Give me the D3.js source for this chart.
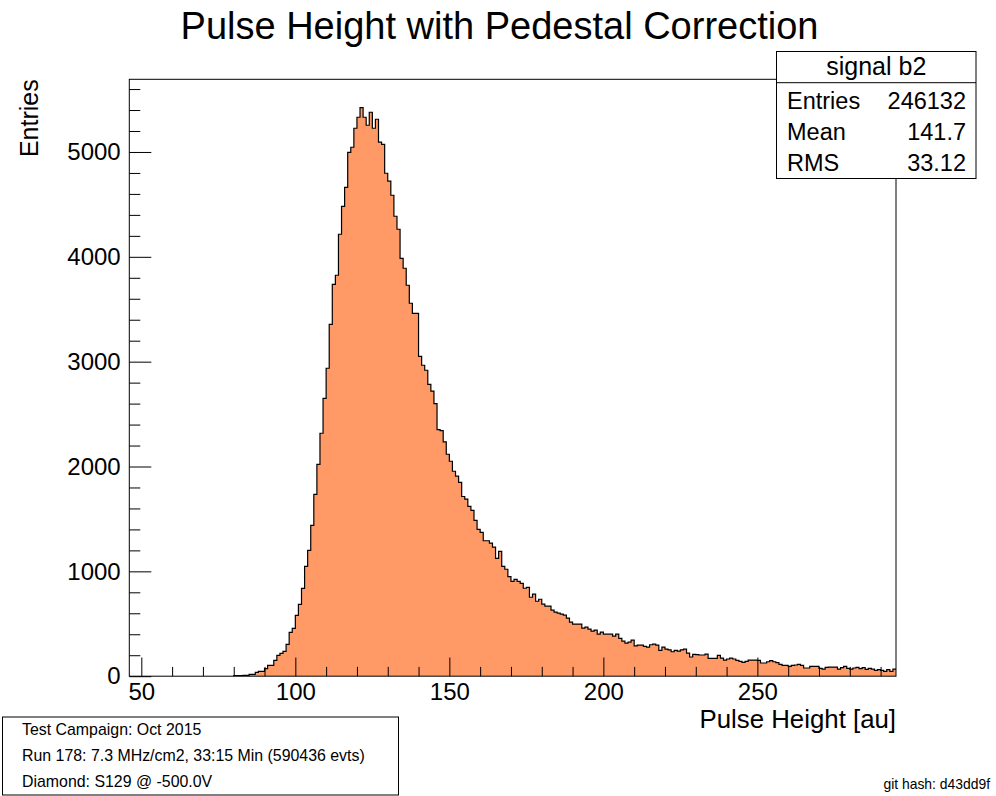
<!DOCTYPE html>
<html>
<head>
<meta charset="utf-8">
<script src="https://cdn.jsdelivr.net/npm/d3@7"></script>
<style>
    body { margin: 0; background: #fff; }
    svg { display: block; font-family: "Liberation Sans", Arial, Helvetica, sans-serif; }
</style>
</head>
<body>
<div id="chart"></div>
<script>
// histogram: 1 au bins, first bin starts at 80
const firstBin = 80
const binWidth = 1
const countsRise = [5, 5, 6, 7, 8, 18, 18, 37, 46, 46, 72, 104, 104, 151, 199, 218, 237, 304, 418, 457,
    581, 686, 838, 1048, 1201, 1439, 1735, 2021, 2317, 2650]
const countsPeak = [2937, 3356, 3738, 3824, 4215, 4482, 4663, 4997, 5045, 5226, 5331, 5422, 5331, 5255, 5379, 5226, 5312,
    5093, 5073, 4797, 4721, 4587, 4387, 4263, 3986, 3891, 3729, 3557, 3461, 3461, 3051, 2966, 2918, 2784]
const countsTail = [2719, 2599, 2352, 2342, 2234, 2117, 2050, 1955, 1908, 1848, 1714, 1689, 1619, 1581, 1486, 1400,
    1372, 1292, 1292, 1270, 1232, 1124, 1191, 1048, 1020, 950, 905, 924, 905, 886, 839, 848, 753, 782, 715, 734,
    687, 668, 668, 630, 611, 601, 592, 582, 554, 516, 497, 497, 497, 459, 468, 449, 430, 440, 402, 421]
const countsFar = [401, 401, 401, 382, 401, 360, 335, 316, 325, 344, 290, 297, 297, 284, 278, 300, 306, 297, 246, 278,
    259, 252, 233, 246, 240, 252, 259, 221, 183, 208, 205, 202, 202, 211, 170, 170, 170, 199, 173, 154,
    164, 173, 164, 151, 141, 132, 141, 154, 154, 154, 151, 126, 126, 138, 148, 138, 129, 113, 103, 103,
    94, 103, 107, 113, 103, 78, 78, 94, 94, 94, 75, 68, 84, 87, 87, 87, 68, 81, 94, 75,
    68, 78, 84, 72, 81, 65, 75, 68, 56, 62, 56, 46, 62, 46, 68]

const xRange = [46.1, 295]
const xMajorTicks = [50, 100, 150, 200, 250]
const xMinorTicks = d3.range(60, 295, 10).filter(v => v % 50 !== 0)
const yMajorTicks = [0, 1000, 2000, 3000, 4000, 5000]
const yMinorTicks = d3.range(200, 5700, 200).filter(v => v % 1000 !== 0)

const title = "Pulse Height with Pedestal Correction"
const xTitle = "Pulse Height [au]"
const yTitle = "Entries"
const statsName = "signal b2"
const statsLabels = ["Entries", "Mean", "RMS"]
const statsValues = ["246132", "141.7", "33.12"]
const infoLines = ["Test Campaign: Oct 2015", "Run 178: 7.3 MHz/cm2, 33:15 Min (590436 evts)", "Diamond: S129 @ -500.0V"]
const gitHash = "git hash: d43dd9f"

const width = 996
const height = 796
const frame = {left: 129.3, right: 896, top: 79.3, bottom: 676.2}
const fillColor = "#ff9966"

const counts = [...countsRise, ...countsPeak, ...countsTail, ...countsFar]
const bins = counts.map((c, i) => ({x0: firstBin + i * binWidth, c}))
// extra point so the step curve closes the last bin
bins.push({x0: firstBin + counts.length * binWidth, c: counts[counts.length - 1]})

const x = d3.scaleLinear().domain(xRange).range([frame.left, frame.right])
const y = d3.scaleLinear().domain([0, d3.max(counts) * 1.05]).range([frame.bottom, frame.top])

const svg = d3.select("#chart")
    .append("svg")
    .attr("width", width)
    .attr("height", height)

svg.append("defs").append("clipPath")
    .attr("id", "frameClip")
    .append("rect")
    .attr("x", frame.left)
    .attr("y", frame.top)
    .attr("width", frame.right - frame.left)
    .attr("height", frame.bottom - frame.top)

const plot = svg.append("g").attr("clip-path", "url(#frameClip)")

const area = d3.area()
    .curve(d3.curveStepAfter)
    .x(d => x(d.x0))
    .y0(y(0))
    .y1(d => y(d.c))

plot.append("path")
    .datum(bins)
    .attr("d", area)
    .attr("fill", fillColor)

// outline starts and ends on the baseline
const outline = [{x0: firstBin, c: 0}, ...bins]
const line = d3.line()
    .curve(d3.curveStepAfter)
    .x(d => x(d.x0))
    .y(d => y(d.c))

plot.append("path")
    .datum(outline)
    .attr("d", line)
    .attr("fill", "none")
    .attr("stroke", "#000")
    .attr("stroke-width", 1.2)

// axes, ticks pointing into the frame like ROOT
const xAxis = svg.append("g")
    .attr("transform", `translate(0,${frame.bottom})`)
    .call(d3.axisBottom(x).tickValues(xMajorTicks).tickSize(-18.7).tickPadding(7))
xAxis.append("g")
    .call(d3.axisBottom(x).tickValues(xMinorTicks).tickSize(-9.3).tickFormat(""))

const yAxis = svg.append("g")
    .attr("transform", `translate(${frame.left},0)`)
    .call(d3.axisLeft(y).tickValues(yMajorTicks).tickSize(-22).tickPadding(8.6).tickFormat(d3.format("d")))
yAxis.append("g")
    .call(d3.axisLeft(y).tickValues(yMinorTicks).tickSize(-11).tickFormat(""))

svg.selectAll(".domain").remove()
svg.selectAll(".tick line").attr("stroke", "#000")
svg.selectAll(".tick text")
    .attr("fill", "#000")
    .attr("font-size", 24)
    .attr("font-family", null)

svg.append("rect")
    .attr("x", frame.left)
    .attr("y", frame.top)
    .attr("width", frame.right - frame.left)
    .attr("height", frame.bottom - frame.top)
    .attr("fill", "none")
    .attr("stroke", "#000")
    .attr("stroke-width", 1)

svg.append("text")
    .attr("x", 499.5)
    .attr("y", 39)
    .attr("text-anchor", "middle")
    .attr("font-size", 38)
    .text(title)

svg.append("text")
    .attr("x", frame.right)
    .attr("y", 728)
    .attr("text-anchor", "end")
    .attr("font-size", 25.8)
    .text(xTitle)

svg.append("text")
    .attr("transform", `translate(38,${frame.top}) rotate(-90)`)
    .attr("text-anchor", "end")
    .attr("font-size", 25)
    .text(yTitle)

// stats box
const stats = svg.append("g")
stats.append("rect")
    .attr("x", 776.5)
    .attr("y", 51.5)
    .attr("width", 199.5)
    .attr("height", 127)
    .attr("fill", "#fff")
    .attr("stroke", "#000")
stats.append("line")
    .attr("x1", 776.5)
    .attr("x2", 976)
    .attr("y1", 82.7)
    .attr("y2", 82.7)
    .attr("stroke", "#000")
stats.append("text")
    .attr("x", 876.3)
    .attr("y", 75)
    .attr("text-anchor", "middle")
    .attr("font-size", 25)
    .text(statsName)
const rowY = d3.scalePoint().domain(statsLabels).range([108.5, 171])
stats.selectAll("text.label")
    .data(statsLabels)
    .enter()
    .append("text")
    .attr("class", "label")
    .attr("x", 787)
    .attr("y", d => rowY(d))
    .attr("font-size", 23.5)
    .text(d => d)
stats.selectAll("text.value")
    .data(statsValues)
    .enter()
    .append("text")
    .attr("class", "value")
    .attr("x", 966)
    .attr("y", (d, i) => rowY(statsLabels[i]))
    .attr("text-anchor", "end")
    .attr("font-size", 23.5)
    .text(d => d)

// run info box
const info = svg.append("g")
info.append("rect")
    .attr("x", 2.5)
    .attr("y", 717)
    .attr("width", 396)
    .attr("height", 78)
    .attr("fill", "#fff")
    .attr("stroke", "#000")
info.selectAll("text")
    .data(infoLines)
    .enter()
    .append("text")
    .attr("x", 22)
    .attr("y", (d, i) => 734.5 + i * 26.2)
    .attr("font-size", 15.9)
    .text(d => d)

svg.append("text")
    .attr("x", 990)
    .attr("y", 789)
    .attr("text-anchor", "end")
    .attr("font-size", 13.9)
    .text(gitHash)
</script>
</body>
</html>
